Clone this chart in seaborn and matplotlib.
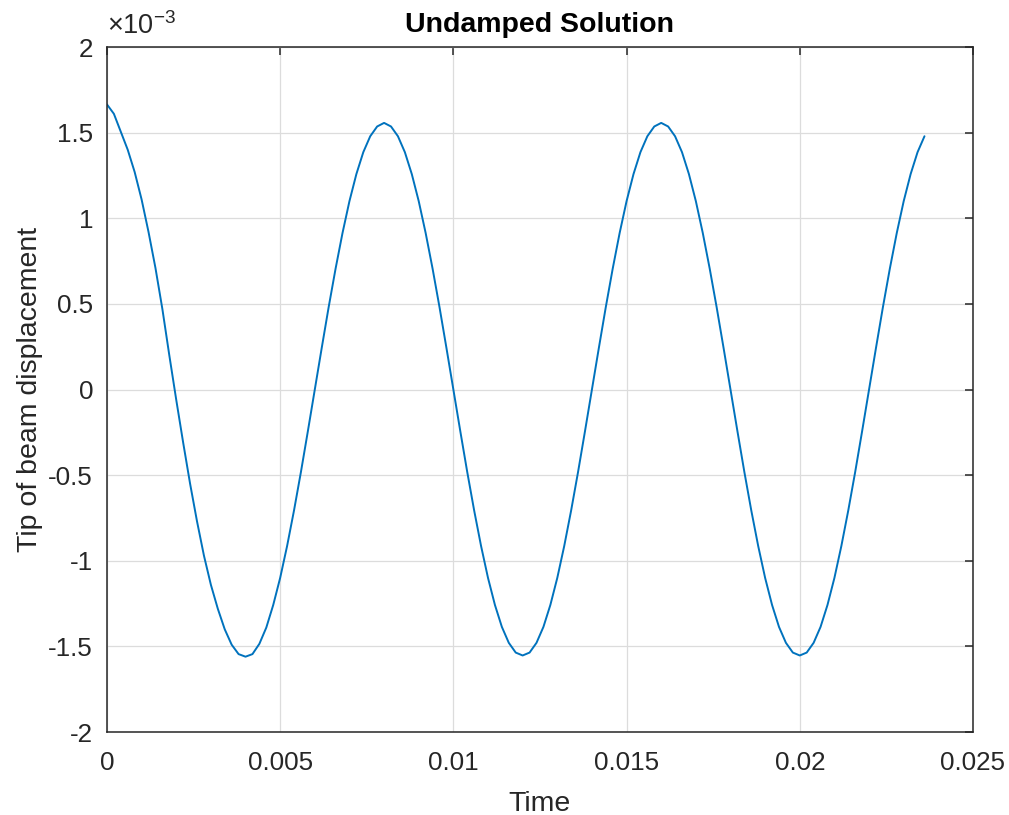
import matplotlib
matplotlib.use("Agg")
import matplotlib.pyplot as plt
import seaborn as sns
import pandas as pd
from matplotlib.ticker import FixedLocator

# ---- data ----
time_us = [
    0, 200, 400, 600, 800, 1000, 1200, 1400, 1600, 1800,
    2000, 2200, 2400, 2600, 2800, 3000, 3200, 3400, 3600, 3800,
    4000, 4200, 4400, 4600, 4800, 5000, 5200, 5400, 5600, 5800,
    6000, 6200, 6400, 6600, 6800, 7000, 7200, 7400, 7600, 7800,
    8000, 8200, 8400, 8600, 8800, 9000, 9200, 9400, 9600, 9800,
    10000, 10200, 10400, 10600, 10800, 11000, 11200, 11400, 11600, 11800,
    12000, 12200, 12400, 12600, 12800, 13000, 13200, 13400, 13600, 13800,
    14000, 14200, 14400, 14600, 14800, 15000, 15200, 15400, 15600, 15800,
    16000, 16200, 16400, 16600, 16800, 17000, 17200, 17400, 17600, 17800,
    18000, 18200, 18400, 18600, 18800, 19000, 19200, 19400, 19600, 19800,
    20000, 20200, 20400, 20600, 20800, 21000, 21200, 21400, 21600, 21800,
    22000, 22200, 22400, 22600, 22800, 23000, 23200, 23400, 23600,
]
# tip displacement in units of 1e-3
disp_e3 = [
    1.665, 1.610, 1.505, 1.400, 1.270, 1.110, 0.920, 0.710, 0.470, 0.200,
    -0.060, -0.310, -0.550, -0.770, -0.970, -1.140, -1.280, -1.400, -1.490, -1.545,
    -1.560, -1.545, -1.485, -1.390, -1.258, -1.100, -0.914, -0.706, -0.481, -0.243,
    0.000, 0.243, 0.481, 0.706, 0.914, 1.100, 1.258, 1.386, 1.479, 1.536,
    1.557, 1.536, 1.479, 1.386, 1.258, 1.100, 0.914, 0.706, 0.481, 0.243,
    0.000, -0.243, -0.481, -0.706, -0.914, -1.100, -1.258, -1.386, -1.479, -1.536,
    -1.553, -1.536, -1.479, -1.386, -1.258, -1.100, -0.914, -0.706, -0.481, -0.243,
    0.000, 0.243, 0.481, 0.706, 0.914, 1.100, 1.258, 1.386, 1.479, 1.536,
    1.557, 1.536, 1.479, 1.386, 1.258, 1.100, 0.914, 0.706, 0.481, 0.243,
    0.000, -0.243, -0.481, -0.706, -0.914, -1.100, -1.258, -1.386, -1.479, -1.536,
    -1.553, -1.536, -1.479, -1.386, -1.258, -1.100, -0.914, -0.706, -0.481, -0.243,
    0.000, 0.243, 0.481, 0.706, 0.914, 1.100, 1.258, 1.386, 1.479,
]
x_ticks = [0, 0.005, 0.01, 0.015, 0.02, 0.025]
x_tick_labels = ["0", "0.005", "0.01", "0.015", "0.02", "0.025"]
y_ticks = [-2, -1.5, -1, -0.5, 0, 0.5, 1, 1.5, 2]
y_tick_labels = ["-2", "-1.5", "-1", "-0.5", "0", "0.5", "1", "1.5", "2"]

title = "Undamped Solution"
x_label = "Time"
y_label = "Tip of beam displacement"
exp_label = r"$\times10^{-3}$"

df = pd.DataFrame({"Time": [t / 1e6 for t in time_us], "disp": disp_e3})

# ---- style ----
sns.set_style("white")
plt.rcParams["font.family"] = ["Liberation Sans", "DejaVu Sans"]
plt.rcParams["mathtext.default"] = "regular"

TXT = "#262626"
fig = plt.figure(figsize=(10.09, 8.15), dpi=100)
ax = fig.add_axes([0.106, 0.1018, 0.8583, 0.8405])

sns.lineplot(data=df, x="Time", y="disp", ax=ax, color="#0072BD",
             linewidth=1.4, estimator=None, sort=False)
ax.lines[0].set_solid_joinstyle("round")

ax.set_xlim(0, 0.025)
ax.set_ylim(-2, 2)
ax.xaxis.set_major_locator(FixedLocator(x_ticks))
ax.yaxis.set_major_locator(FixedLocator(y_ticks))
ax.set_xticklabels(x_tick_labels)
ax.set_yticklabels(y_tick_labels)

ax.grid(True, color="#dcdcdc", linewidth=0.9)
ax.set_axisbelow(True)
for s in ax.spines.values():
    s.set_visible(True)
    s.set_color(TXT)
    s.set_linewidth(1.1)

ax.tick_params(axis="both", which="both", direction="in", length=6, width=1.1,
               color=TXT, labelcolor=TXT, labelsize=18.7,
               top=True, right=True)
ax.tick_params(axis="y", pad=10)
ax.tick_params(axis="x", pad=14)

ax.set_xlabel(x_label, fontsize=20.5, color=TXT, labelpad=11)
ax.set_ylabel(y_label, fontsize=20.5, color=TXT, labelpad=4)
ax.set_title(title, fontsize=20.5, fontweight="bold", color="black", pad=11)

ax.text(0.0, 1.01, exp_label, transform=ax.transAxes, fontsize=19.5,
        color=TXT, ha="left", va="bottom")

fig.savefig("out.png", dpi=100)
